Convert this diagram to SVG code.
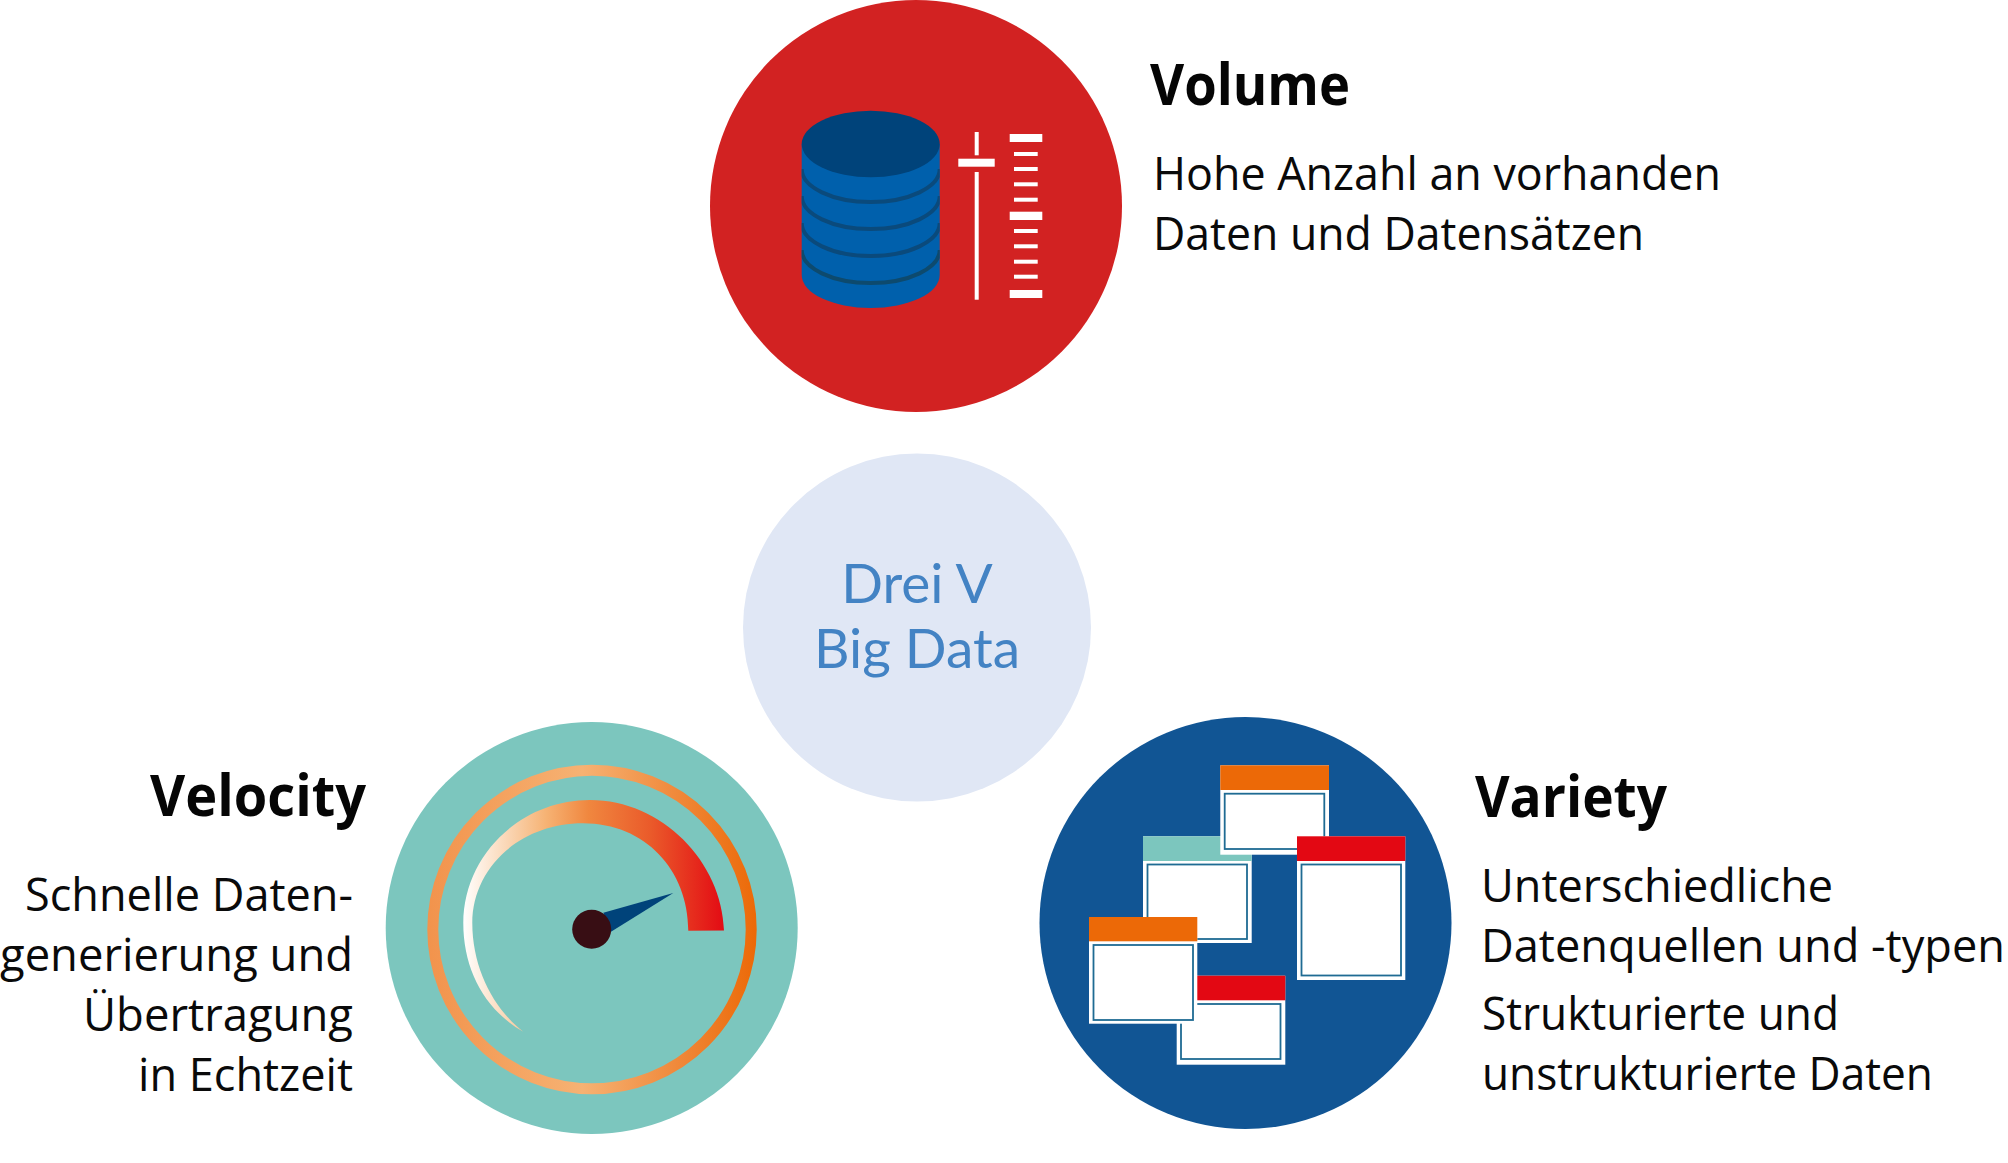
<svg xmlns="http://www.w3.org/2000/svg" width="2008" height="1163" viewBox="0 0 2008 1163">
<style>
.body{font-family:"Open Sans","Noto Sans","Liberation Sans",sans-serif;font-size:46px;fill:#0a0a0a}
.title{font-family:"Open Sans","Noto Sans","Liberation Sans",sans-serif;font-size:58px;font-weight:700;fill:#050505}
.center{font-family:Lato,"Liberation Sans",sans-serif;font-size:55px;fill:#4383C4;text-anchor:middle}
.w{fill:#fff}
.band{fill:none;stroke:#0A4A7C;stroke-width:4}
.inner{fill:#fff;stroke:#1F6B93;stroke-width:1.8}
.tick{fill:#fff}
</style>
<defs>
<linearGradient id="ring" gradientUnits="userSpaceOnUse" x1="427" y1="0" x2="757" y2="0">
<stop offset="0" stop-color="#F2934C"/><stop offset="0.47" stop-color="#F6B273"/><stop offset="0.75" stop-color="#F08A3C"/><stop offset="1" stop-color="#EC6907"/>
</linearGradient>
<linearGradient id="gauge" gradientUnits="userSpaceOnUse" x1="463" y1="0" x2="724" y2="0">
<stop offset="0" stop-color="#FFFFFF"/><stop offset="0.32" stop-color="#F6B273"/><stop offset="0.48" stop-color="#F0873F"/><stop offset="0.72" stop-color="#EA5A2A"/><stop offset="1" stop-color="#E30B14"/>
</linearGradient>
<clipPath id="cyl"><path d="M801.7,144 V275 A69,33 0 0 0 939.7,275 V144 Z"/></clipPath>
</defs>
<g id="connectors"/>
<g id="center-node">
<circle cx="917" cy="627.5" r="174" fill="#E0E7F5"/>
<text class="center" x="917" y="602.7">Drei V</text>
<text class="center" x="917" y="668">Big Data</text>
</g>
<g id="volume">
<circle cx="916" cy="206" r="206" fill="#D22222"/>
<path d="M801.7,144 V275 A69,33 0 0 0 939.7,275 V144 Z" fill="#0060AC"/>
<ellipse cx="870.7" cy="144" rx="69" ry="33.3" fill="#00437A"/>
<g clip-path="url(#cyl)">
<path class="band" d="M801.7,169 A69,33 0 0 0 939.7,169"/>
<path class="band" d="M801.7,196 A69,33 0 0 0 939.7,196"/>
<path class="band" d="M801.7,223 A69,33 0 0 0 939.7,223"/>
<path class="band" d="M801.7,250 A69,33 0 0 0 939.7,250" style="stroke:#0D4A6E"/>
</g>
<rect class="tick" x="974.7" y="132" width="4" height="23.3"/>
<rect class="tick" x="958.3" y="158.7" width="36.4" height="8"/>
<rect class="tick" x="974.7" y="172" width="4" height="127.7"/>
<rect class="tick" x="1009.7" y="134" width="32.6" height="8"/>
<rect class="tick" x="1014" y="152" width="23.7" height="4"/>
<rect class="tick" x="1014" y="167" width="23.7" height="4"/>
<rect class="tick" x="1014" y="182.3" width="23.7" height="4"/>
<rect class="tick" x="1014" y="197.7" width="23.7" height="4"/>
<rect class="tick" x="1009.7" y="211.7" width="32.6" height="8.3"/>
<rect class="tick" x="1014" y="229" width="23.7" height="4"/>
<rect class="tick" x="1014" y="244.3" width="23.7" height="4"/>
<rect class="tick" x="1014" y="259.7" width="23.7" height="4"/>
<rect class="tick" x="1014" y="274.7" width="23.7" height="4"/>
<rect class="tick" x="1009.7" y="290" width="32.6" height="8"/>
<text class="title" x="1150" y="105" textLength="200" lengthAdjust="spacingAndGlyphs">Volume</text>
<text class="body" x="1153" y="190" textLength="568" lengthAdjust="spacingAndGlyphs">Hohe Anzahl an vorhanden</text>
<text class="body" x="1153" y="250" textLength="491" lengthAdjust="spacingAndGlyphs">Daten und Datensätzen</text>
</g>
<g id="velocity">
<circle cx="591.7" cy="928" r="206" fill="#7CC6BE"/>
<circle cx="592" cy="929.5" r="159.2" fill="none" stroke="url(#ring)" stroke-width="11"/>
<path d="M724,930.5 C722,862 662,800 590,800 C520,800 463.3,856 463.3,923 C463.3,970 485,1010 523.3,1031.7 C495,1010 472.3,970 472.3,923 C472.3,868 520,823.3 583,823.3 C645,823.3 688.3,870 688.3,930.7 Z" fill="url(#gauge)"/>
<path d="M673.3,893 L603.3,912.7 L611,931.7 Z" fill="#00437A"/>
<circle cx="591.7" cy="929.3" r="19.5" fill="#380E14"/>
<text class="title" x="150" y="815.7" textLength="216" lengthAdjust="spacingAndGlyphs">Velocity</text>
<text class="body" x="25" y="911" textLength="328" lengthAdjust="spacingAndGlyphs">Schnelle Daten-</text>
<text class="body" x="0" y="971" textLength="353" lengthAdjust="spacingAndGlyphs">generierung und</text>
<text class="body" x="83" y="1031" textLength="270" lengthAdjust="spacingAndGlyphs">Übertragung</text>
<text class="body" x="138" y="1091" textLength="215" lengthAdjust="spacingAndGlyphs">in Echtzeit</text>
</g>
<g id="variety">
<circle cx="1245.5" cy="923" r="206" fill="#115594"/>
<g id="win-teal">
<rect class="w" x="1143" y="836.3" width="108.7" height="106.7"/>
<rect x="1143" y="836.3" width="108.7" height="24.7" fill="#7CC6BE"/>
<rect class="inner" x="1147.5" y="864.5" width="99.5" height="74.5"/>
</g>
<g id="win-orange-top">
<rect class="w" x="1220.3" y="765.3" width="108.7" height="89.4"/>
<rect x="1220.3" y="765.3" width="108.7" height="24.7" fill="#EC6907"/>
<rect class="inner" x="1224.7" y="793.7" width="99.6" height="55.3"/>
</g>
<g id="win-red-right">
<rect class="w" x="1297" y="836.3" width="108.3" height="143.7"/>
<rect x="1297" y="836.3" width="108.3" height="24.7" fill="#E30813"/>
<rect class="inner" x="1301.5" y="864.5" width="99.5" height="111"/>
</g>
<g id="win-red-bottom">
<rect class="w" x="1176.7" y="975.7" width="108.6" height="89"/>
<rect x="1176.7" y="975.7" width="108.6" height="24.6" fill="#E30813"/>
<rect class="inner" x="1181" y="1004" width="99.5" height="55"/>
</g>
<g id="win-orange-left">
<rect class="w" x="1089" y="917" width="108.3" height="106.7"/>
<rect x="1089" y="917" width="108.3" height="24.3" fill="#EC6907"/>
<rect class="inner" x="1093.5" y="945" width="99.5" height="75"/>
</g>
<text class="title" x="1475" y="816.7" textLength="192" lengthAdjust="spacingAndGlyphs">Variety</text>
<text class="body" x="1481" y="901.7" textLength="352" lengthAdjust="spacingAndGlyphs">Unterschiedliche</text>
<text class="body" x="1481" y="961.7" textLength="524" lengthAdjust="spacingAndGlyphs">Datenquellen und -typen</text>
<text class="body" x="1482" y="1030" textLength="357" lengthAdjust="spacingAndGlyphs">Strukturierte und</text>
<text class="body" x="1482" y="1090" textLength="451" lengthAdjust="spacingAndGlyphs">unstrukturierte Daten</text>
</g>
</svg>
